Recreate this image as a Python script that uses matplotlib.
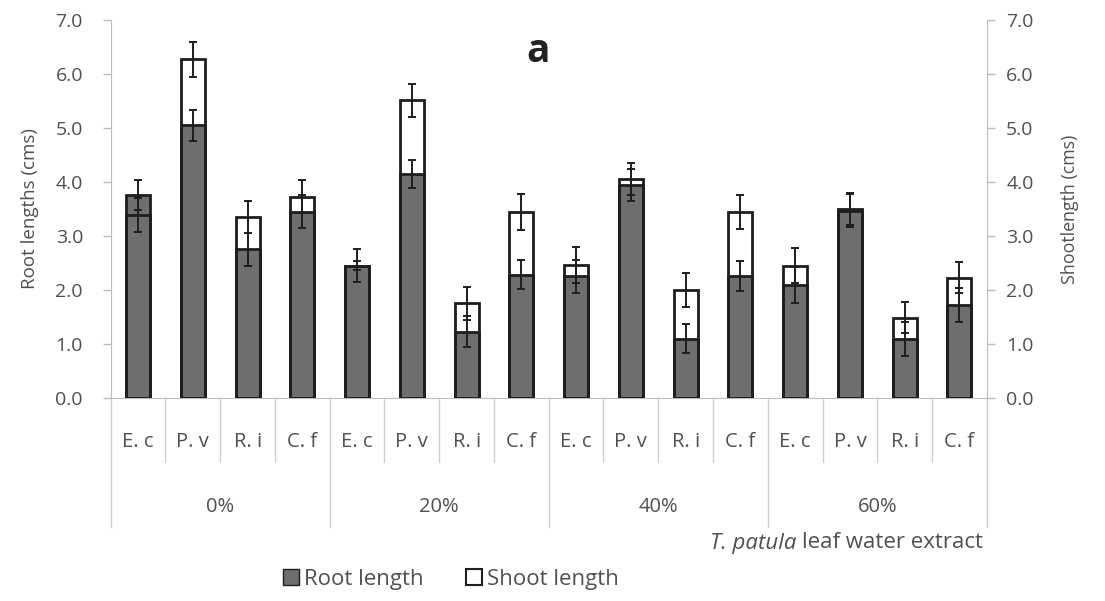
"""Root and shoot lengths of four species under T. patula leaf water extract."""
import matplotlib.pyplot as plt
from matplotlib.patches import Patch

plt.rcParams["font.family"] = ["Open Sans", "DejaVu Sans"]

# data
species = ["E. c", "P. v", "R. i", "C. f"] * 4
groups = ["0%", "20%", "40%", "60%"]
root = [3.76, 5.05, 2.75, 3.45, 2.45, 4.15, 1.23, 2.28,
        2.25, 3.95, 1.10, 2.26, 2.09, 3.50, 1.09, 1.72]
root_err = [0.28, 0.29, 0.31, 0.31, 0.31, 0.26, 0.28, 0.27,
            0.30, 0.30, 0.27, 0.28, 0.34, 0.30, 0.31, 0.32]
shoot = [3.39, 6.27, 3.35, 3.73, 2.45, 5.51, 1.75, 3.45,
         2.46, 4.05, 2.00, 3.44, 2.45, 3.47, 1.49, 2.23]
shoot_err = [0.31, 0.33, 0.30, 0.31, 0.08, 0.31, 0.30, 0.33,
             0.33, 0.30, 0.31, 0.31, 0.32, 0.30, 0.29, 0.29]

TXT = "#505050"
AXC = "#bdbdbd"
ROOT_FC = "#6e6e6e"
EDGE = "#1e1e1e"

fig = plt.figure(figsize=(11.05, 6.01), dpi=100)
ax = fig.add_axes([0.1002, 0.3378, 0.7928, 0.6289])
ax2 = ax.twinx()

x = list(range(len(root)))
w = 0.44
ax.bar(x, root, w, color=ROOT_FC, edgecolor=EDGE, linewidth=2.0, zorder=2)
ax.errorbar(x, root, yerr=root_err, fmt="none", ecolor=EDGE,
            elinewidth=1.4, capsize=3.2, capthick=1.4, zorder=3)
ax2.bar(x, shoot, w, facecolor="none", edgecolor=EDGE, linewidth=2.0, zorder=2)
ax2.errorbar(x, shoot, yerr=shoot_err, fmt="none", ecolor=EDGE,
             elinewidth=1.4, capsize=3.2, capthick=1.4, zorder=3)

for a in (ax, ax2):
    a.set_ylim(0, 7)
    a.set_yticks([i * 1.0 for i in range(8)])
    a.set_yticklabels([f"{i:.1f}" for i in range(8)])
    a.set_xlim(-0.5, 15.5)
    a.tick_params(axis="y", colors=AXC, labelcolor=TXT, labelsize=14,
                  length=6, width=1)
    for s in a.spines.values():
        s.set_visible(False)
ax.tick_params(axis="y", pad=14)
ax2.tick_params(axis="y", pad=8)
ax.spines["left"].set_visible(True)
ax.spines["left"].set_color(AXC)
ax2.spines["right"].set_visible(True)
ax2.spines["right"].set_color(AXC)
ax.spines["bottom"].set_visible(True)
ax.spines["bottom"].set_color(AXC)
ax.set_xticks([])

ax.set_ylabel("Root lengths (cms)", fontsize=13.5, color=TXT, labelpad=12)
ax2.set_ylabel("Shootlength (cms)", fontsize=12.8, color=TXT, labelpad=20)

# multi-level category axis
xt = ax.get_xaxis_transform()
for i, lab in enumerate(species):
    ax.text(i, -0.116, lab, transform=xt, ha="center", va="center",
            fontsize=14.5, color=TXT)
for b in range(len(species) + 1):
    depth = -0.341 if b % 4 == 0 else -0.169
    ax.plot([b - 0.5, b - 0.5], [0, depth], transform=xt, color="#d0d0d0",
            lw=1, clip_on=False)
for g, lab in enumerate(groups):
    ax.text(g * 4 + 1.5, -0.288, lab, transform=xt, ha="center", va="center",
            fontsize=14.5, color=TXT)

t2 = fig.text(983 / 1105, 1 - 543 / 601, "leaf water extract", ha="right",
              va="center", fontsize=16, color=TXT)
fig.canvas.draw()
ax.annotate("T. patula ", xy=(0, 0), xycoords=t2, ha="right", va="bottom",
            fontsize=16, color=TXT, style="italic")

fig.text(538 / 1105, 1 - 52 / 601, "a", ha="center", va="center",
         fontsize=28, fontweight="bold", color="#222222")

handles = [Patch(facecolor=ROOT_FC, edgecolor=EDGE, label="Root length"),
           Patch(facecolor="white", edgecolor=EDGE, linewidth=1.5, label="Shoot length")]
leg = fig.legend(handles=handles, loc="center", bbox_to_anchor=(451 / 1105, 1 - 579 / 601),
                 ncol=2, frameon=False, fontsize=16, handlelength=0.7,
                 handleheight=0.7, handletextpad=0.25, columnspacing=1.9)
for t in leg.get_texts():
    t.set_color(TXT)

fig.savefig("out.png", dpi=100, facecolor="white")
